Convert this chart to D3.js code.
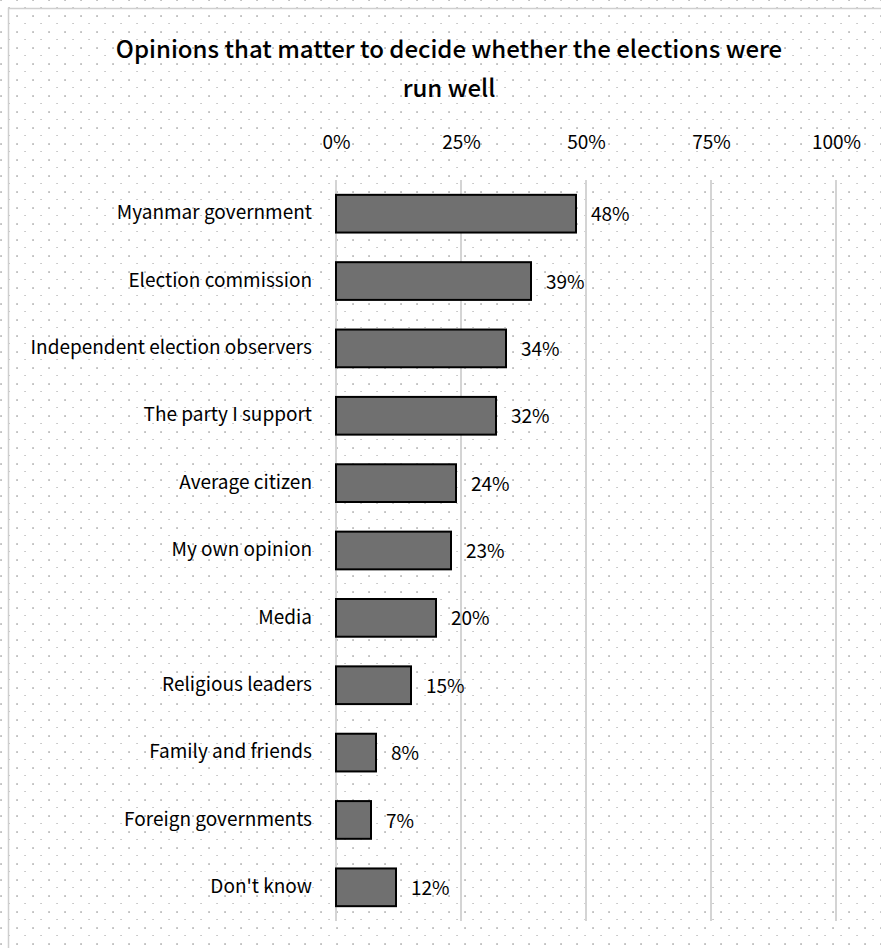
<!DOCTYPE html>
<html>
<head>
<meta charset="utf-8">
<script src="https://cdn.jsdelivr.net/npm/d3@7"></script>
<style>
  html, body { margin: 0; padding: 0; background: #fff; }
  svg { display: block; }
  text { font-family: "Noto Sans CJK SC", "Noto Sans", sans-serif; fill: #000; }
</style>
</head>
<body>
<svg id="chart" width="881" height="948"></svg>
<script>
// Survey responses: share of respondents naming each source
const categories = [
  "Myanmar government",
  "Election commission",
  "Independent election observers",
  "The party I support",
  "Average citizen",
  "My own opinion",
  "Media",
  "Religious leaders",
  "Family and friends",
  "Foreign governments",
  "Don't know"
];
const values = [48, 39, 34, 32, 24, 23, 20, 15, 8, 7, 12];
const tickValues = [0, 25, 50, 75, 100];
const titleLines = [
  "Opinions that matter to decide whether the elections were",
  "run well"
];

const width = 881, height = 948;
const svg = d3.select("#chart");

// dotted paper background
const defs = svg.append("defs");
const pat = defs.append("pattern")
  .attr("id", "dots")
  .attr("patternUnits", "userSpaceOnUse")
  .attr("width", 16).attr("height", 16)
  .attr("x", 8).attr("y", 8);
pat.append("rect").attr("x", 8.3).attr("y", 7.3).attr("width", 1.5).attr("height", 1.5).attr("fill", "#9e9e9e");
pat.append("rect").attr("x", 0.3).attr("y", 15.3).attr("width", 1.5).attr("height", 1.5).attr("fill", "#9e9e9e");

svg.append("rect").attr("width", width).attr("height", height).attr("fill", "#fff");
svg.append("rect").attr("width", width).attr("height", height).attr("fill", "url(#dots)");
// frame
svg.append("rect")
  .attr("x", 8.5).attr("y", 8.5)
  .attr("width", width + 20).attr("height", height + 20)
  .attr("fill", "none").attr("stroke", "#cfcfcf").attr("stroke-width", 1.5);

// title
const title = svg.append("g");
titleLines.forEach((line, i) => {
  title.append("text")
    .attr("x", 449).attr("y", 58 + i * 39)
    .attr("text-anchor", "middle")
    .attr("font-size", 24)
    .attr("font-weight", 500)
    .text(line);
});

const margin = { left: 336, right: 45, top: 180, bottom: 27 };
const x = d3.scaleLinear().domain([0, 100]).range([margin.left, width - margin.right]);
const y = d3.scaleBand().domain(categories).range([margin.top, height - margin.bottom]).paddingInner(0.44).paddingOuter(0.22);

// vertical grid lines
svg.append("g")
  .selectAll("line")
  .data(tickValues)
  .join("line")
  .attr("x1", d => x(d)).attr("x2", d => x(d))
  .attr("y1", margin.top).attr("y2", height - margin.bottom)
  .attr("stroke", "#d4d4d4").attr("stroke-width", 2);

// top axis labels
const axis = d3.axisTop(x).tickValues(tickValues).tickFormat(d => d + "%").tickSize(0).tickPadding(0);
const axisG = svg.append("g").attr("transform", "translate(0,149)").call(axis);
axisG.select(".domain").remove();
axisG.selectAll("text")
  .attr("font-size", 19)
  .attr("font-family", "'Noto Sans CJK SC', 'Noto Sans', sans-serif")
  .attr("fill", "#000")
  .attr("dy", 0);

// bars
svg.append("g")
  .selectAll("rect")
  .data(categories)
  .join("rect")
  .attr("x", x(0))
  .attr("y", d => y(d))
  .attr("width", (d, i) => x(values[i]) - x(0))
  .attr("height", y.bandwidth())
  .attr("fill", "#707070")
  .attr("stroke", "#000")
  .attr("stroke-width", 2);

// category labels
svg.append("g")
  .selectAll("text")
  .data(categories)
  .join("text")
  .attr("x", x(0) - 24)
  .attr("y", d => y(d) + y.bandwidth() / 2)
  .attr("dy", "0.3em")
  .attr("text-anchor", "end")
  .attr("font-size", 19)
  .text(d => d);

// value labels
svg.append("g")
  .selectAll("text")
  .data(categories)
  .join("text")
  .attr("x", (d, i) => x(values[i]) + 15)
  .attr("y", d => y(d) + y.bandwidth() / 2)
  .attr("dy", "0.4em")
  .attr("font-size", 19)
  .text((d, i) => values[i] + "%");
</script>
</body>
</html>
